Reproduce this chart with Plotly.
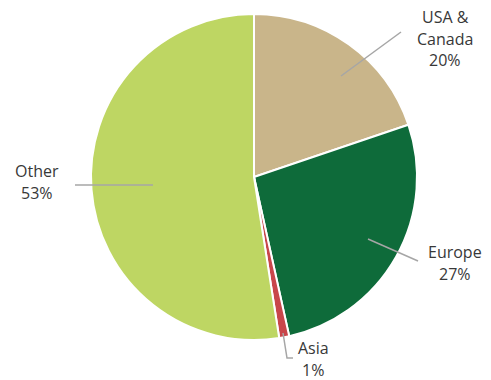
import plotly.graph_objects as go

# Regional share (%)
regions = ["USA & Canada", "Europe", "Asia", "Other"]
label_lines = [["USA &", "Canada"], ["Europe"], ["Asia"], ["Other"]]
shares = [20, 27, 1, 53]
colors = ["#C9B58A", "#0E6B3A", "#C8464A", "#BED663"]

W, H = 491, 380
CX, CY, R = 254, 177, 163


def px(x, y):
    """Pixel position (from top-left) to paper coordinates."""
    return x / W, 1 - y / H


fig = go.Figure(
    go.Pie(
        labels=regions,
        values=shares,
        sort=False,
        direction="clockwise",
        rotation=0,
        marker=dict(colors=colors, line=dict(color="white", width=2)),
        textinfo="none",
        hoverinfo="label+value",
        domain=dict(x=[(CX - R) / W, (CX + R) / W], y=[1 - (CY + R) / H, 1 - (CY - R) / H]),
        showlegend=False,
    )
)

# Label placement: text centre x, first-line y, leader-line path points
placement = {
    "USA & Canada": dict(x=445, y=17, path=[(341, 76), (401, 32)]),
    "Europe": dict(x=455, y=252, path=[(368, 239), (418, 261)]),
    "Asia": dict(x=313, y=348, path=[(283, 333), (287, 358), (293, 358)]),
    "Other": dict(x=37, y=171, path=[(75, 185), (153, 185)]),
}

LINE_GAP = 21.5
for name, lines, val in zip(regions, label_lines, shares):
    p = placement[name]
    for i, t in enumerate(lines + [f"{val}%"]):
        ax, ay = px(p["x"], p["y"] + i * LINE_GAP)
        fig.add_annotation(
            x=ax, y=ay, xref="paper", yref="paper", text=t, showarrow=False,
            xanchor="center", yanchor="middle",
            font=dict(family="Open Sans, sans-serif", size=16, color="#383838"),
        )
    pts = [px(x, y) for x, y in p["path"]]
    path = "M " + " L ".join(f"{a},{b}" for a, b in pts)
    fig.add_shape(type="path", path=path, xref="paper", yref="paper",
                  line=dict(color="#A6A6A6", width=1.5))

fig.update_layout(
    width=W, height=H,
    margin=dict(l=0, r=0, t=0, b=0),
    paper_bgcolor="white",
    plot_bgcolor="white",
)

fig.write_html("out.html")
